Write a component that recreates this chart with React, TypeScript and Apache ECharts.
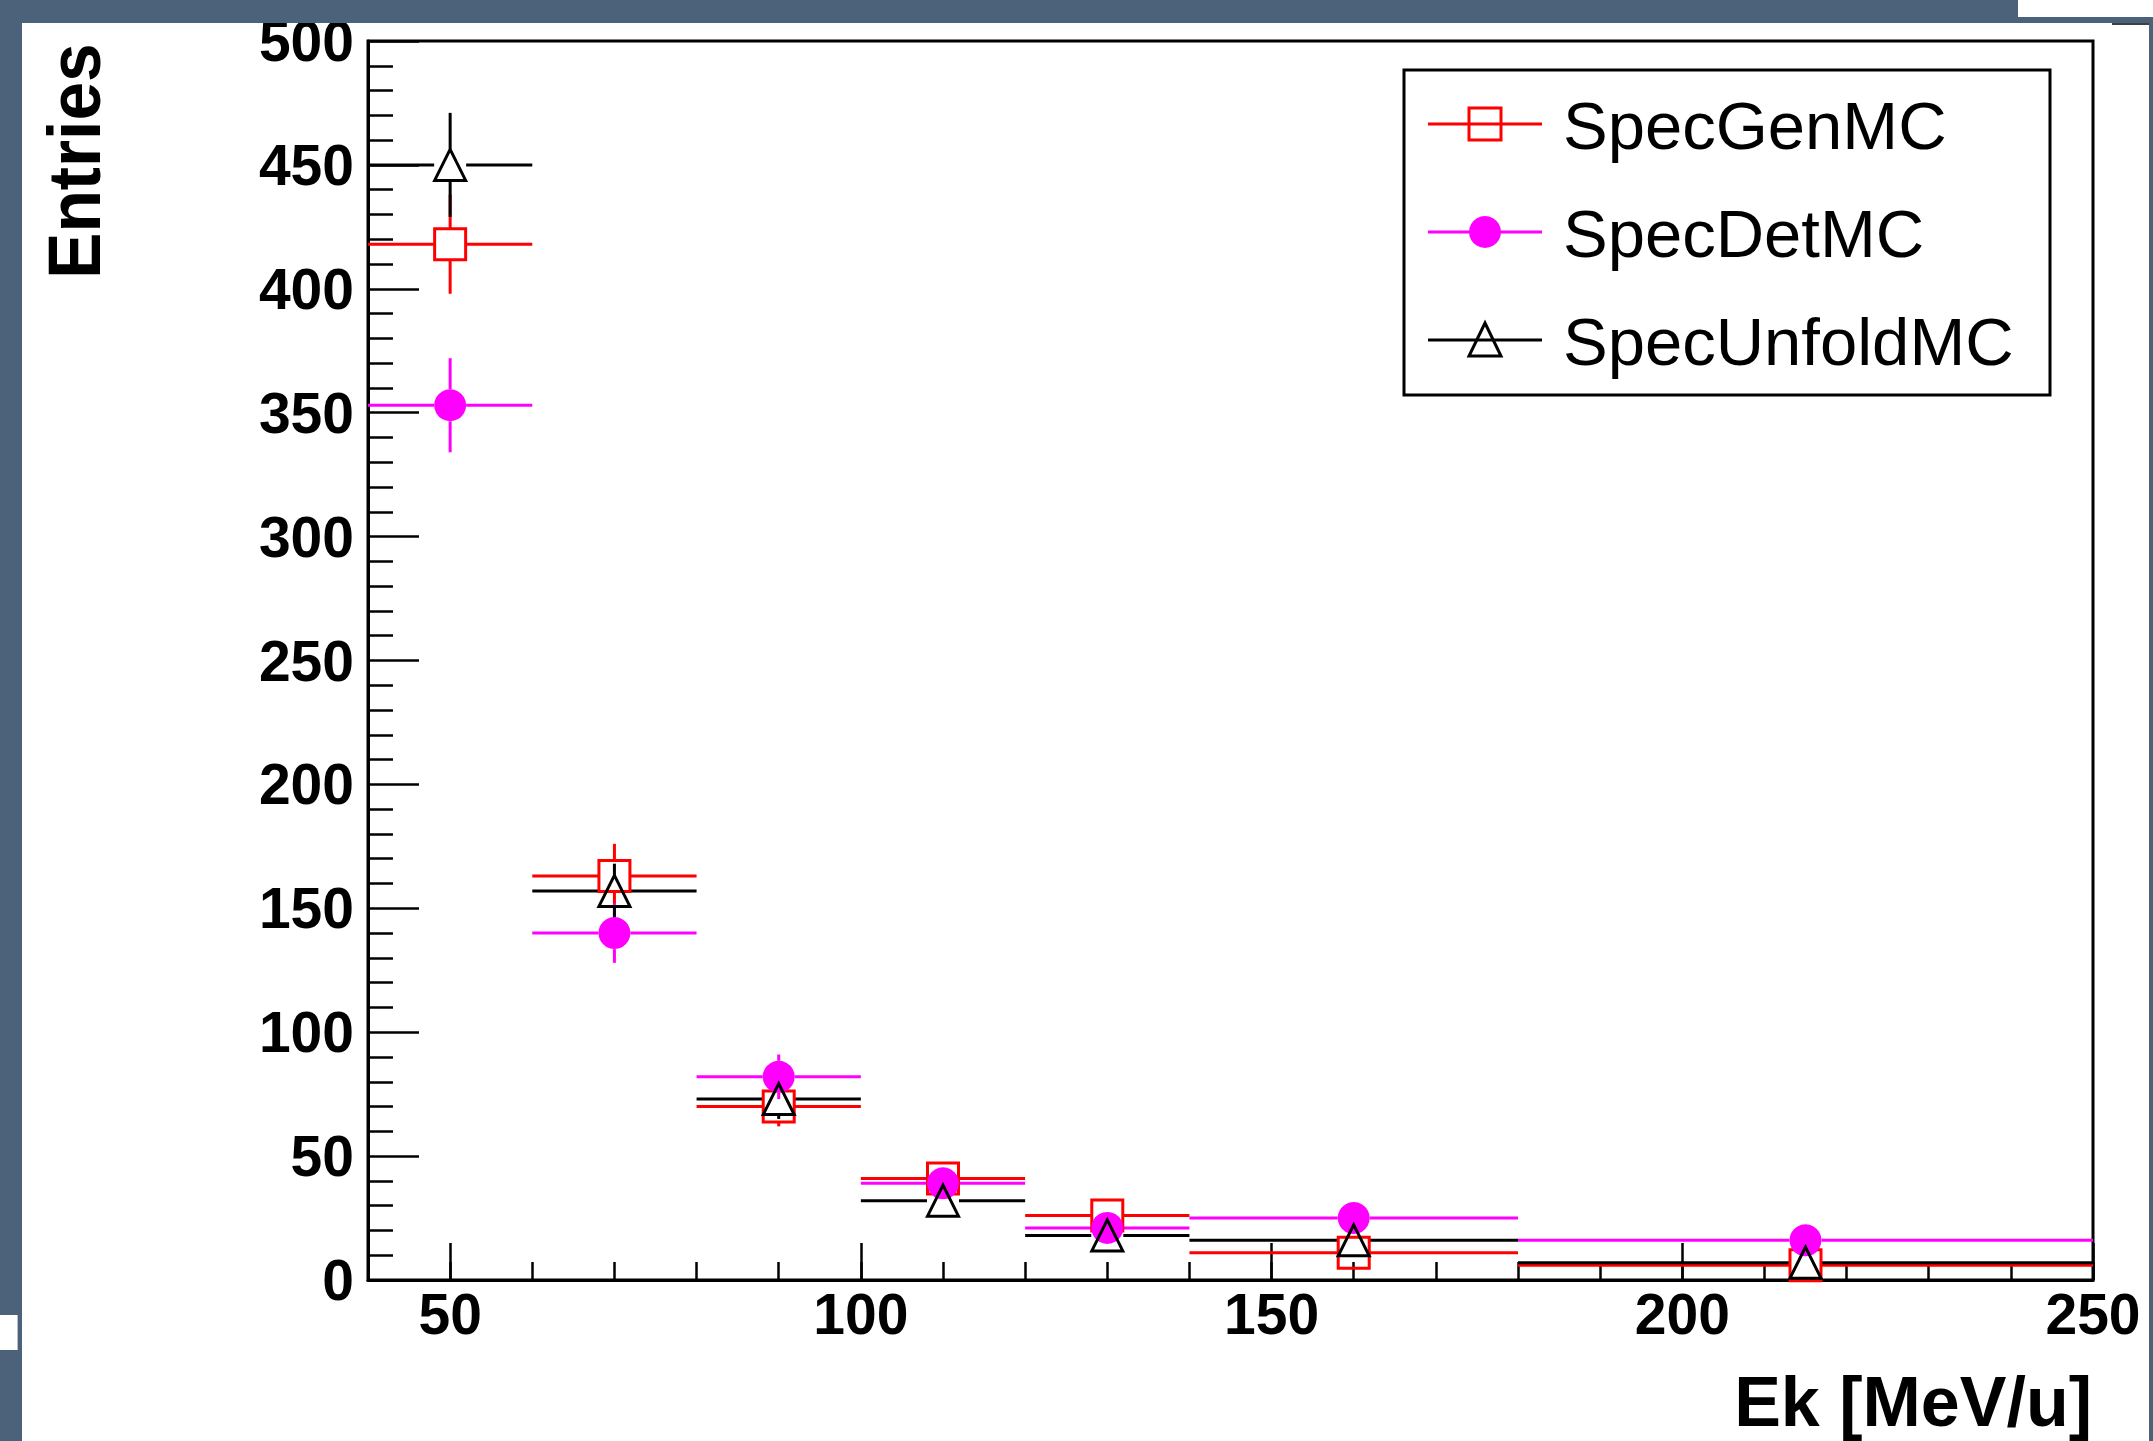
import React, { useEffect, useRef } from "react";
import * as echarts from "echarts";

// Canvas size
const W = 2153;
const H = 1441;

// Energy bins (MeV/u): lower edge, upper edge, centre
const BIN_LOW = [40, 60, 80, 100, 120, 140, 180];
const BIN_HIGH = [60, 80, 100, 120, 140, 180, 250];
const BIN_CENTER = [50, 70, 90, 110, 130, 160, 215];

// Generated MC spectrum
const GEN_MC = [418, 163, 70, 41, 26, 11, 6];
const GEN_ERR = [20, 13, 8, 6, 5, 3, 2];

// Detected MC spectrum
const DET_MC = [353, 140, 82, 39, 21, 25, 16];
const DET_ERR = [19, 12, 9, 6, 5, 5, 4];

// Unfolded MC spectrum
const UNFOLD_MC = [450, 157, 73, 32, 18, 16, 7];
const UNFOLD_ERR = [21, 11, 8, 6, 4, 4, 3];

// Axis ticks
const X_MAJOR = [50, 100, 150, 200, 250];
const SERIES_NAMES = ["SpecGenMC", "SpecDetMC", "SpecUnfoldMC"];

const FONT = "'Liberation Sans', Arial, Helvetica, sans-serif";
const RED = "#ff0000";
const MAGENTA = "#ff00ff";
const BLACK = "#000000";
const FRAME_BG = "#4c627b";
const GAP = 16; // error bars stop at the marker edge
const LW = 3;

type Row = [number, number, number, number, number];

function rows(vals: number[], errs: number[]): Row[] {
  return BIN_CENTER.map((x, i) => [x, BIN_LOW[i], BIN_HIGH[i], vals[i], errs[i]]);
}

function errorBars(color: string) {
  return (_params: any, api: any) => {
    const x = api.value(0);
    const lo = api.value(1);
    const hi = api.value(2);
    const y = api.value(3);
    const e = api.value(4);
    const c = api.coord([x, y]);
    const pL = api.coord([lo, y]);
    const pR = api.coord([hi, y]);
    const pT = api.coord([x, y + e]);
    const pB = api.coord([x, Math.max(0, y - e)]);
    const segs: number[][] = [];
    if (c[0] - GAP > pL[0]) segs.push([pL[0], c[1], c[0] - GAP, c[1]]);
    if (pR[0] > c[0] + GAP) segs.push([c[0] + GAP, c[1], pR[0], c[1]]);
    if (c[1] - GAP > pT[1]) segs.push([c[0], pT[1], c[0], c[1] - GAP]);
    if (pB[1] > c[1] + GAP) segs.push([c[0], c[1] + GAP, c[0], pB[1]]);
    return {
      type: "group",
      children: segs.map((s) => ({
        type: "line",
        shape: { x1: s[0], y1: s[1], x2: s[2], y2: s[3] },
        style: { stroke: color, lineWidth: LW },
      })),
    };
  };
}

function histSeries(name: string, vals: number[], errs: number[], color: string, marker: any) {
  const data = rows(vals, errs);
  return [
    {
      name,
      type: "custom",
      xAxisIndex: 0,
      yAxisIndex: 0,
      renderItem: errorBars(color),
      encode: { x: 0, y: 3 },
      data,
      clip: true,
      z: 3,
    },
    {
      name,
      type: "scatter",
      xAxisIndex: 0,
      yAxisIndex: 0,
      data: data.map((d) => [d[0], d[3]]),
      z: 4,
      ...marker,
    },
  ];
}

const tickLine = { color: BLACK, width: 2.5 };
const labelStyle = { color: BLACK, fontFamily: FONT, fontWeight: "bold" as const, fontSize: 57 };

// Legend geometry
const LEG = { x: 1404, y: 70, w: 646, h: 325 };
const LEG_ROWS = [124, 232, 340];
const LEG_LINE = [1428, 1542];
const LEG_MARK = 1485;
const LEG_TEXT_X = 1563;

function legendGraphic() {
  const els: any[] = [
    {
      type: "rect",
      shape: { x: LEG.x, y: LEG.y, width: LEG.w, height: LEG.h },
      style: { fill: "#fff", stroke: BLACK, lineWidth: LW },
      z: 50,
    },
  ];
  const colors = [RED, MAGENTA, BLACK];
  LEG_ROWS.forEach((cy, i) => {
    els.push({
      type: "line",
      shape: { x1: LEG_LINE[0], y1: cy, x2: LEG_LINE[1], y2: cy },
      style: { stroke: colors[i], lineWidth: LW },
      z: 51,
    });
    if (i === 0) {
      els.push({
        type: "rect",
        shape: { x: LEG_MARK - 16, y: cy - 16, width: 32, height: 32 },
        style: { fill: "none", stroke: RED, lineWidth: LW },
        z: 52,
      });
    } else if (i === 1) {
      els.push({
        type: "circle",
        shape: { cx: LEG_MARK, cy, r: 16 },
        style: { fill: MAGENTA },
        z: 52,
      });
    } else {
      els.push({
        type: "polygon",
        shape: {
          points: [
            [LEG_MARK, cy - 17],
            [LEG_MARK + 16, cy + 16],
            [LEG_MARK - 16, cy + 16],
          ],
        },
        style: { fill: "none", stroke: BLACK, lineWidth: LW },
        z: 52,
      });
    }
    els.push({
      type: "text",
      x: LEG_TEXT_X,
      y: cy + 1,
      style: {
        text: SERIES_NAMES[i],
        fill: BLACK,
        font: `normal 67px ${FONT}`,
        textAlign: "left",
        textVerticalAlign: "middle",
      },
      z: 52,
    });
  });
  return els;
}

function frameGraphic() {
  return [
    { type: "rect", shape: { x: 0, y: 0, width: 2018, height: 23 }, style: { fill: FRAME_BG }, z: 100 },
    { type: "rect", shape: { x: 2018, y: 17, width: 135, height: 6 }, style: { fill: FRAME_BG }, z: 100 },
    { type: "rect", shape: { x: 0, y: 0, width: 22, height: H }, style: { fill: FRAME_BG }, z: 100 },
    { type: "rect", shape: { x: 2149, y: 17, width: 4, height: H - 17 }, style: { fill: FRAME_BG }, z: 100 },
    { type: "line", shape: { x1: 2112, y1: 24, x2: 2149, y2: 24 }, style: { stroke: BLACK, lineWidth: 1.5 }, z: 100 },
    { type: "rect", shape: { x: 0, y: 1315, width: 17, height: 35 }, style: { fill: "#fff" }, z: 101 },
    { type: "line", shape: { x1: 17.5, y1: 1315, x2: 17.5, y2: 1350 }, style: { stroke: "#b8bfc8", lineWidth: 1 }, z: 101 },
  ];
}

function titleGraphic() {
  return [
    {
      type: "text",
      x: 2092,
      y: 1402,
      style: {
        text: "Ek [MeV/u]",
        fill: BLACK,
        font: `bold 70px ${FONT}`,
        textAlign: "right",
        textVerticalAlign: "middle",
      },
      z: 20,
    },
    {
      type: "text",
      x: 74,
      y: 279,
      rotation: Math.PI / 2,
      scaleX: 0.94,
      style: {
        text: "Entries",
        fill: BLACK,
        font: `bold 74px ${FONT}`,
        textAlign: "left",
        textVerticalAlign: "middle",
      },
      z: 20,
    },
  ];
}

const option: any = {
  animation: false,
  backgroundColor: "#ffffff",
  grid: {
    left: 368,
    right: W - 2093,
    top: 41,
    bottom: H - 1280,
    containLabel: false,
    show: true,
    borderColor: BLACK,
    borderWidth: LW,
    backgroundColor: "#ffffff",
  },
  xAxis: [
    {
      type: "value",
      min: 40,
      max: 250,
      position: "bottom",
      axisLine: { show: true, onZero: false, lineStyle: { color: BLACK, width: LW } },
      axisTick: { show: true, inside: true, length: 37, customValues: X_MAJOR, lineStyle: tickLine },
      axisLabel: { show: true, margin: 5, customValues: X_MAJOR, ...labelStyle },
      splitLine: { show: false },
    },
    {
      type: "value",
      min: 40,
      max: 250,
      interval: 10,
      position: "bottom",
      axisLine: { show: false },
      axisTick: { show: true, inside: true, length: 18, lineStyle: tickLine },
      axisLabel: { show: false },
      splitLine: { show: false },
    },
  ],
  yAxis: {
    type: "value",
    min: 0,
    max: 500,
    interval: 50,
    position: "left",
    axisLine: { show: true, onZero: false, lineStyle: { color: BLACK, width: LW } },
    axisTick: { show: true, inside: true, length: 51, lineStyle: tickLine },
    minorTick: { show: true, splitNumber: 5, length: 25, lineStyle: tickLine },
    axisLabel: { show: true, margin: 14, ...labelStyle },
    splitLine: { show: false },
    minorSplitLine: { show: false },
  },
  series: [
    ...histSeries(SERIES_NAMES[0], GEN_MC, GEN_ERR, RED, {
      symbol: "rect",
      symbolSize: 31,
      itemStyle: { color: "rgba(0,0,0,0)", borderColor: RED, borderWidth: LW, opacity: 1 },
    }),
    ...histSeries(SERIES_NAMES[1], DET_MC, DET_ERR, MAGENTA, {
      symbol: "circle",
      symbolSize: 32,
      itemStyle: { color: MAGENTA, opacity: 1 },
    }),
    ...histSeries(SERIES_NAMES[2], UNFOLD_MC, UNFOLD_ERR, BLACK, {
      symbol: "triangle",
      symbolSize: [31, 31],
      itemStyle: { color: "rgba(0,0,0,0)", borderColor: BLACK, borderWidth: LW, opacity: 1 },
    }),
  ],
  graphic: [...legendGraphic(), ...titleGraphic(), ...frameGraphic()],
};

export default function App() {
  const ref = useRef<HTMLDivElement>(null);
  useEffect(() => {
    document.body.style.margin = "0";
    const chart = echarts.init(ref.current as HTMLDivElement, null, {
      renderer: "svg",
      width: W,
      height: H,
    });
    chart.setOption(option);
    return () => chart.dispose();
  }, []);
  return (
    <div
      ref={ref}
      style={{ position: "absolute", left: 0, top: 0, width: W, height: H, background: "#ffffff" }}
    />
  );
}
